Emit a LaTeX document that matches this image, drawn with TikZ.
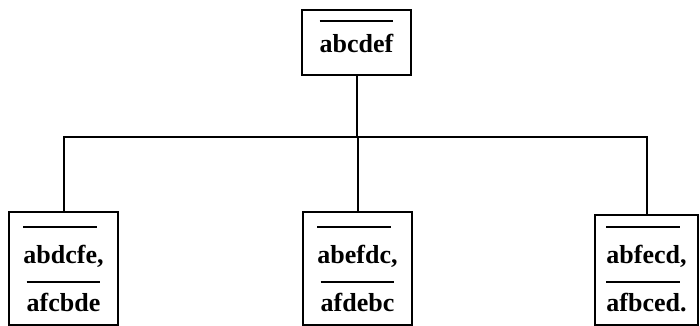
\documentclass[tikz,border=0pt]{standalone}
\usepackage{fontspec}
\setmainfont{Liberation Serif}
\newcommand\ovtext[2]{\vbox{\hrule height 2pt\vskip #2\hbox{\rule{0pt}{20pt}#1}}}
\begin{document}
\begin{tikzpicture}[x=1pt,y=1pt,
  box/.style={draw,line width=2pt,minimum width=109pt,inner sep=0pt},
  lbl/.style={anchor=base,inner sep=0pt,font=\fontsize{26}{28}\selectfont\bfseries},
  conn/.style={line width=2pt}]
\useasboundingbox (0,0) rectangle (700,-325);
% top
\node[box,minimum height=65pt] (top) at (356.5,-42.5) {};
\node[lbl] (tt) at (356.5,-52) {\ovtext{abcdef}{10pt}};
% bottom boxes
\node[box,minimum height=113pt] (b1) at (63.5,-268.5) {};
\node[box,minimum height=113pt] (b2) at (357.5,-268.5) {};
\node[box,minimum width=103pt,minimum height=110pt] (b3) at (646.5,-270) {};
\node[lbl] (t1a) at (b1.north |- 0,-263) {\ovtext{abdcfe}{15pt},};
\node[lbl] (t1b) at (b1.north |- 0,-311) {\ovtext{afcbde}{8pt}};
\node[lbl] (t2a) at (b2.north |- 0,-263) {\ovtext{abefdc}{15pt},};
\node[lbl] (t2b) at (b2.north |- 0,-311) {\ovtext{afdebc}{8pt}};
\node[lbl] (t3a) at (b3.north |- 0,-263) {\ovtext{abfecd}{15pt},};
\node[lbl] (t3b) at (b3.north |- 0,-311) {\ovtext{afbced}{8pt}.};
% connectors
\coordinate (hub) at (356.5,-137);
\draw[conn] (top.south) -- (hub);
\draw[conn] (b1.north) |- (hub);
\draw[conn] (b3.north) |- (hub);
\draw[conn] (b2.north) -- (b2.north |- hub);
\end{tikzpicture}
\end{document}
